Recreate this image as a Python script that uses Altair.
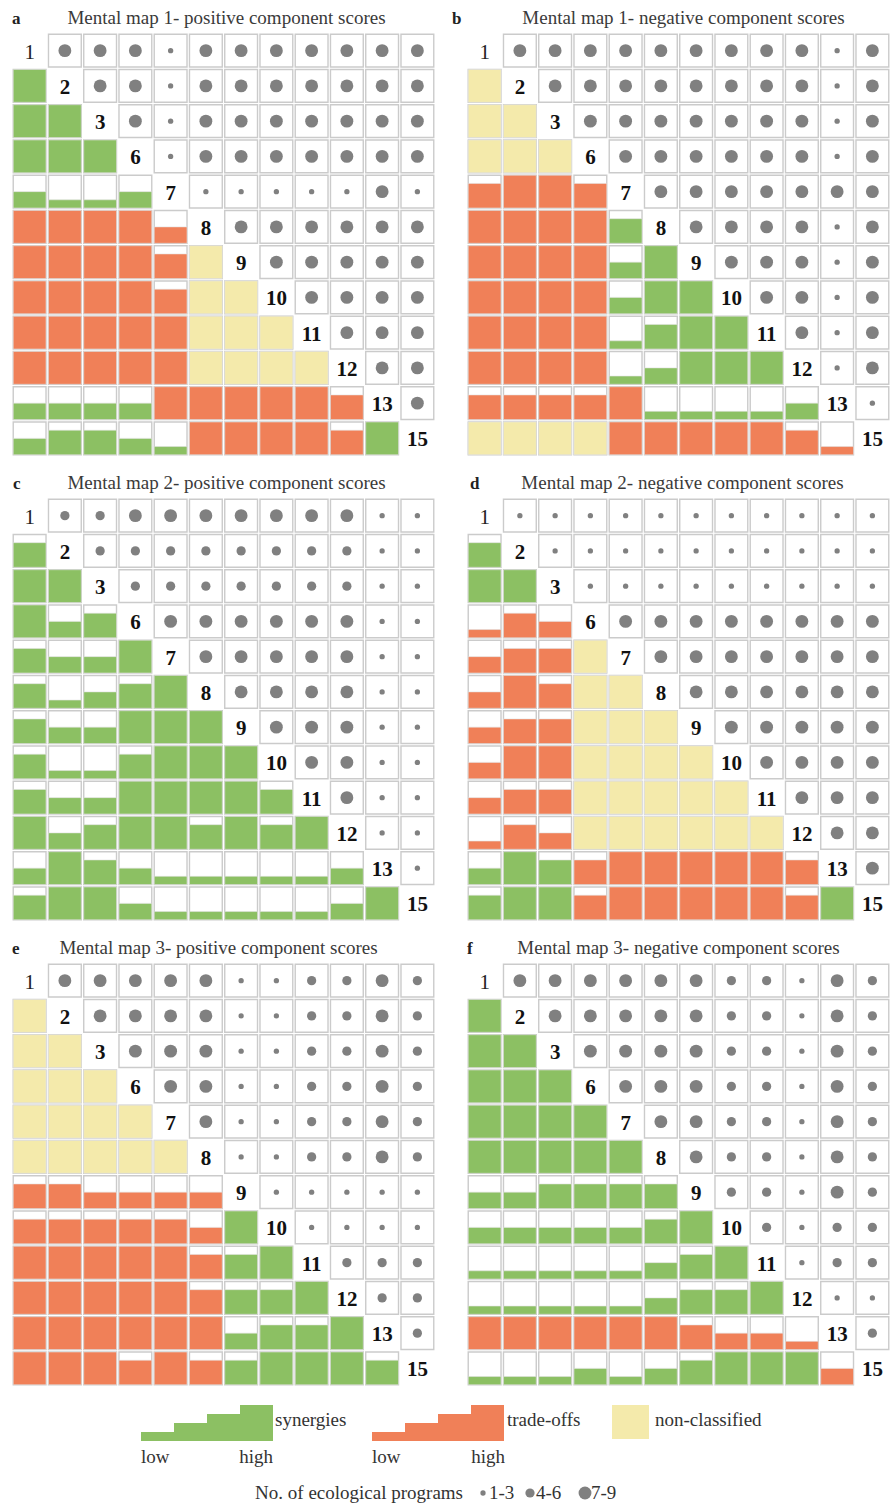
import altair as alt
import pandas as pd

# ---------------------------------------------------------------- data
LABELS = ["1", "2", "3", "6", "7", "8", "9", "10", "11", "12", "13", "15"]

LETTERS = ["a", "b", "c", "d", "e", "f"]
TITLES = [
    "Mental map 1- positive component scores",
    "Mental map 1- negative component scores",
    "Mental map 2- positive component scores",
    "Mental map 2- negative component scores",
    "Mental map 3- positive component scores",
    "Mental map 3- negative component scores",
]

# Lower triangle, one string per row (rows 2..15): G = synergy, R = trade-off,
# Y = non-classified; the digit is the strength class 1 (low) .. 4 (high).
A_LOWER = [
    "G4",
    "G4 G4",
    "G4 G4 G4",
    "G2 G1 G1 G2",
    "R4 R4 R4 R4 R2",
    "R4 R4 R4 R4 R3 Y",
    "R4 R4 R4 R4 R3 Y Y",
    "R4 R4 R4 R4 R4 Y Y Y",
    "R4 R4 R4 R4 R4 Y Y Y Y",
    "G2 G2 G2 G2 R4 R4 R4 R4 R4 R3",
    "G2 G3 G3 G2 G1 R4 R4 R4 R4 R3 G4",
]
B_LOWER = [
    "Y",
    "Y Y",
    "Y Y Y",
    "R3 R4 R4 R3",
    "R4 R4 R4 R4 G3",
    "R4 R4 R4 R4 G2 G4",
    "R4 R4 R4 R4 G2 G4 G4",
    "R4 R4 R4 R4 G1 G3 G4 G4",
    "R4 R4 R4 R4 G1 G2 G4 G4 G4",
    "R3 R3 R3 R3 R4 G1 G1 G1 G1 G2",
    "Y Y Y Y R4 R4 R4 R4 R4 R3 R1",
]
C_LOWER = [
    "G3",
    "G4 G4",
    "G4 G2 G3",
    "G3 G2 G2 G4",
    "G3 G1 G2 G3 G4",
    "G3 G2 G2 G4 G4 G4",
    "G3 G1 G1 G3 G4 G4 G4",
    "G3 G2 G2 G4 G4 G4 G4 G3",
    "G4 G2 G3 G4 G4 G3 G4 G3 G4",
    "G2 G4 G3 G2 G1 G1 G1 G1 G1 G2",
    "G3 G4 G4 G2 G1 G1 G1 G1 G1 G2 G4",
]
D_LOWER = [
    "G3",
    "G4 G4",
    "R1 R3 R2",
    "R2 R3 R3 Y",
    "R2 R4 R3 Y Y",
    "R2 R3 R3 Y Y Y",
    "R2 R4 R4 Y Y Y Y",
    "R2 R3 R3 Y Y Y Y Y",
    "R1 R3 R2 Y Y Y Y Y Y",
    "G2 G4 G3 R3 R4 R4 R4 R4 R4 R3",
    "G3 G4 G4 R3 R4 R4 R4 R4 R4 R3 G4",
]
E_LOWER = [
    "Y",
    "Y Y",
    "Y Y Y",
    "Y Y Y Y",
    "Y Y Y Y Y",
    "R3 R3 R2 R2 R2 R2",
    "R3 R3 R3 R3 R3 R2 G4",
    "R4 R4 R4 R4 R4 R3 G3 G4",
    "R4 R4 R4 R4 R4 R3 G3 G3 G4",
    "R4 R4 R4 R4 R4 R4 G2 G3 G3 G4",
    "R4 R4 R4 R3 R4 R3 G3 G4 G4 G4 G3",
]
F_LOWER = [
    "G4",
    "G4 G4",
    "G4 G4 G4",
    "G4 G4 G4 G4",
    "G4 G4 G4 G4 G4",
    "G2 G2 G3 G3 G3 G3",
    "G2 G2 G2 G2 G2 G3 G4",
    "G1 G1 G1 G1 G1 G2 G3 G4",
    "G1 G1 G1 G1 G1 G2 G3 G3 G4",
    "R4 R4 R4 R4 R4 R4 R3 R2 R2 R1",
    "G1 G1 G1 G2 G1 G2 G3 G4 G4 G4 R2",
]

# Upper triangle, one string per row (rows 1..13): number of ecological
# programs, S = 1-3, M = 4-6, L = 7-9.
A_UPPER = ["LLLSLLLLLLL", "LLSLLLLLLL", "LSLLLLLLL", "SLLLLLLL", "SSSSSLS",
           "LLLLLL", "LLLLL", "LLLL", "LLL", "LL", "L"]
B_UPPER = ["LLLLLLLLLSL", "LLLLLLLLSL", "LLLLLLLSL", "LLLLLLSL", "LLLLLLL",
           "LLLLSL", "LLLSL", "LLSL", "LSL", "SL", "S"]
C_UPPER = ["MMLLLLLLLSS", "MMMMMMMMSS", "MMMMMMMSS", "LLLLLLSS", "LLLLLSS",
           "LLLLSS", "LLLSS", "LLSS", "LSS", "SS", "S"]
D_UPPER = ["SSSSSSSSSSS", "SSSSSSSSSS", "SSSSSSSSS", "LLLLLLLL", "LLLLLLL",
           "LLLLLL", "LLLLL", "LLLL", "LLL", "LL", "L"]
E_UPPER = ["LLLLLSSMMLM", "LLLLSSMMLM", "LLLSSMMLM", "LLSSMMLM", "LSSMMLM",
           "SSMMLM", "SSSSS", "SSSS", "MMM", "MM", "M"]
F_UPPER = ["LLLLLLMMSLM", "LLLLLMMSLM", "LLLLMMSLM", "LLLMMSLM", "LLMMSLM",
           "LMMSLM", "MMSLM", "MSMM", "SMM", "SS", "M"]

PANELS = [
    (A_LOWER, A_UPPER), (B_LOWER, B_UPPER),
    (C_LOWER, C_UPPER), (D_LOWER, D_UPPER),
    (E_LOWER, E_UPPER), (F_LOWER, F_UPPER),
]

KINDS = ["synergies", "trade-offs", "non-classified"]
KIND_CODE = {"G": "synergies", "R": "trade-offs", "Y": "non-classified"}
PROGRAM_CLASSES = ["1-3", "4-6", "7-9"]
SIZE_CODE = {"S": "1-3", "M": "4-6", "L": "7-9"}
LEGEND_LEVELS = [1, 2, 3, 4]

# ---------------------------------------------------------------- style
FONT = "Liberation Serif"
COLORS = ["#8cc063", "#f08058", "#f4eaab"]
DOT = "#808080"
CELL_STROKE = "#cbcbcb"
DOT_AREA = [28, 85, 165]

N = len(LABELS)
CELL = 35.25                 # px per cell
GRID = N * CELL              # 423 px
TOP_BAND = 33                # px above each grid for its title
T = TOP_BAND / CELL
GAP = 0.035                  # inset of a cell, in cell units
LETTER_DX = [0, -15, 1, 3, 0, 0]   # px, panel letter offset from grid
TITLE_DX = [3, 5, 3, 4, -5, 0]     # px, title offset from grid centre

XS = alt.Scale(domain=[0, N])
YS = alt.Scale(domain=[-T, N], reverse=True)
color_scale = alt.Scale(domain=KINDS, range=COLORS)
size_scale = alt.Scale(type="ordinal", domain=PROGRAM_CLASSES, range=DOT_AREA)


def panel(i):
    lower, upper = PANELS[i]
    bars, bg, dots = [], [], []
    for r, row in enumerate(lower, start=1):
        for c, code in enumerate(row.split()):
            kind = KIND_CODE[code[0]]
            level = 4 if code == "Y" else int(code[1])
            frac = level / 4
            bg.append(dict(x0=c + GAP, x1=c + 1 - GAP, y0=r + GAP, y1=r + 1 - GAP))
            bars.append(dict(kind=kind, level=level,
                             x0=c + GAP, x1=c + 1 - GAP,
                             y0=r + 1 - GAP - (1 - 2 * GAP) * frac,
                             y1=r + 1 - GAP))
    for r, row in enumerate(upper):
        for k, s in enumerate(row):
            c = r + 1 + k
            bg.append(dict(x0=c + GAP, x1=c + 1 - GAP, y0=r + GAP, y1=r + 1 - GAP))
            dots.append(dict(n=SIZE_CODE[s], x=c + 0.5, y=r + 0.5))
    diag = pd.DataFrame(dict(lab=LABELS, x=[j + 0.5 for j in range(N)],
                             y=[j + 0.56 for j in range(N)]))
    head = pd.DataFrame(dict(
        letter=[LETTERS[i]], title=[TITLES[i]],
        lx=[LETTER_DX[i] / CELL], tx=[N / 2 + TITLE_DX[i] / CELL],
        y=[-T + 24 / CELL]))

    bg_layer = alt.Chart(pd.DataFrame(bg)).mark_rect(
        fill="white", stroke=CELL_STROKE, strokeWidth=1.4
    ).encode(
        x=alt.X("x0:Q", scale=XS, axis=None), x2="x1:Q",
        y=alt.Y("y0:Q", scale=YS, axis=None), y2="y1:Q",
    )
    bar_layer = alt.Chart(pd.DataFrame(bars)).mark_rect(
        stroke="#e2e2e2", strokeWidth=0.6
    ).encode(
        x=alt.X("x0:Q", scale=XS, axis=None), x2="x1:Q",
        y=alt.Y("y0:Q", scale=YS, axis=None), y2="y1:Q",
        color=alt.Color("kind:N", scale=color_scale, legend=None),
    )
    dot_layer = alt.Chart(pd.DataFrame(dots)).mark_circle(
        color=DOT, opacity=1
    ).encode(
        x=alt.X("x:Q", scale=XS, axis=None),
        y=alt.Y("y:Q", scale=YS, axis=None),
        size=alt.Size("n:N", scale=size_scale, legend=None),
    )
    diag_base = alt.Chart(diag).encode(
        x=alt.X("x:Q", scale=XS, axis=None),
        y=alt.Y("y:Q", scale=YS, axis=None),
        text="lab:N",
    )
    diag_bold = diag_base.transform_filter(alt.datum.lab != "1").mark_text(
        font=FONT, fontSize=21, fontWeight="bold", color="#111", baseline="middle")
    diag_one = diag_base.transform_filter(alt.datum.lab == "1").mark_text(
        font=FONT, fontSize=21, color="#222", baseline="middle")
    letter = alt.Chart(head).mark_text(
        font=FONT, fontSize=17, fontWeight="bold", color="#222",
        align="left", baseline="alphabetic"
    ).encode(x=alt.X("lx:Q", scale=XS, axis=None),
             y=alt.Y("y:Q", scale=YS, axis=None), text="letter:N")
    title = alt.Chart(head).mark_text(
        font=FONT, fontSize=19, color="#3a3a3a", align="center",
        baseline="alphabetic"
    ).encode(x=alt.X("tx:Q", scale=XS, axis=None),
             y=alt.Y("y:Q", scale=YS, axis=None), text="title:N")

    return alt.layer(bg_layer, bar_layer, dot_layer, diag_bold, diag_one,
                     letter, title).properties(width=GRID, height=GRID + TOP_BAND)


# ---------------------------------------------------------------- legend
LEG_W, LEG_H = 878, 112
LEG_TOP = 1395           # page y of the legend strip
PAGE_LEFT = 12
STAIR_X = {"synergies": 141, "trade-offs": 372}
STAIR_STEP = 33
STAIR_TOP, STAIR_BOTTOM = 1405, 1441
SQUARE = dict(x0=612, x1=649, y0=1405, y1=1439)
DOT_X = [483, 530, 585]
DOT_Y = 1493


def px(v):
    return v - PAGE_LEFT


def py(v):
    return v - LEG_TOP


stairs = []
for kind, sx in STAIR_X.items():
    for lv in LEGEND_LEVELS:
        stairs.append(dict(
            kind=kind,
            x0=px(sx + (lv - 1) * STAIR_STEP), x1=px(sx + lv * STAIR_STEP),
            y0=py(STAIR_BOTTOM - (STAIR_BOTTOM - STAIR_TOP) * lv / 4),
            y1=py(STAIR_BOTTOM)))
stairs.append(dict(kind="non-classified", x0=px(SQUARE["x0"]), x1=px(SQUARE["x1"]),
                   y0=py(SQUARE["y0"]), y1=py(SQUARE["y1"])))

leg_text = pd.DataFrame([
    dict(t="synergies", x=px(275), y=py(1426), a="left"),
    dict(t="low", x=px(141), y=py(1463), a="left"),
    dict(t="high", x=px(273), y=py(1463), a="right"),
    dict(t="trade-offs", x=px(507), y=py(1426), a="left"),
    dict(t="low", x=px(372), y=py(1463), a="left"),
    dict(t="high", x=px(505), y=py(1463), a="right"),
    dict(t="non-classified", x=px(655), y=py(1426), a="left"),
    dict(t="No. of ecological programs", x=px(463), y=py(DOT_Y + 6), a="right"),
] + [dict(t=lab, x=px(DOT_X[k] + 6), y=py(DOT_Y + 6), a="left")
     for k, lab in enumerate(PROGRAM_CLASSES)])
leg_dots = pd.DataFrame(dict(n=PROGRAM_CLASSES, x=[px(v) for v in DOT_X],
                             y=[py(DOT_Y)] * 3))

LX = alt.Scale(domain=[0, LEG_W])
LY = alt.Scale(domain=[0, LEG_H], reverse=True)

leg_rects = alt.Chart(pd.DataFrame(stairs)).mark_rect().encode(
    x=alt.X("x0:Q", scale=LX, axis=None), x2="x1:Q",
    y=alt.Y("y0:Q", scale=LY, axis=None), y2="y1:Q",
    color=alt.Color("kind:N", scale=color_scale, legend=None),
)
leg_left = alt.Chart(leg_text).transform_filter(alt.datum.a == "left").mark_text(
    font=FONT, fontSize=19, color="#333", align="left", baseline="alphabetic"
).encode(x=alt.X("x:Q", scale=LX, axis=None), y=alt.Y("y:Q", scale=LY, axis=None),
         text="t:N")
leg_right = alt.Chart(leg_text).transform_filter(alt.datum.a == "right").mark_text(
    font=FONT, fontSize=19, color="#333", align="right", baseline="alphabetic"
).encode(x=alt.X("x:Q", scale=LX, axis=None), y=alt.Y("y:Q", scale=LY, axis=None),
         text="t:N")
leg_circles = alt.Chart(leg_dots).mark_circle(color=DOT, opacity=1).encode(
    x=alt.X("x:Q", scale=LX, axis=None), y=alt.Y("y:Q", scale=LY, axis=None),
    size=alt.Size("n:N", scale=size_scale, legend=None),
)
legend = alt.layer(leg_rects, leg_left, leg_right, leg_circles).properties(
    width=LEG_W, height=LEG_H)

# ---------------------------------------------------------------- layout
rows = [alt.hconcat(panel(2 * k), panel(2 * k + 1), spacing=32, bounds="flush")
        for k in range(3)]
chart = alt.vconcat(*rows, legend, spacing=9).properties(
    padding={"left": 12, "top": 0, "right": 0, "bottom": 0},
    background="white",
).configure_view(stroke=None)

chart.save("out.html", embed_options={"renderer": "svg", "actions": False})
